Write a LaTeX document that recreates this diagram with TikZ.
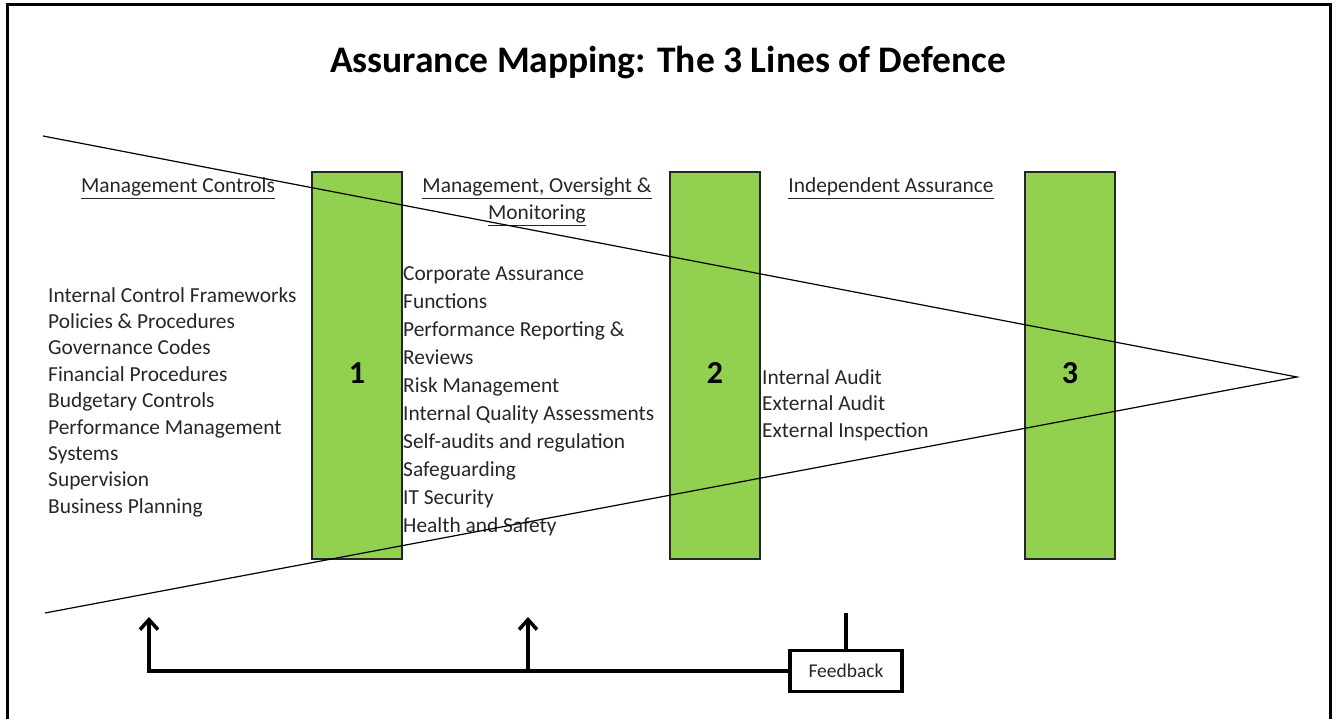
\documentclass[tikz,border=0pt]{standalone}
\usepackage{fontspec}
\setmainfont{Carlito}
\usetikzlibrary{arrows.meta}

\definecolor{barGreen}{HTML}{92D050}
\definecolor{txtGray}{HTML}{262626}

\begin{document}
\begin{tikzpicture}[x=1pt, y=-1pt,
    bar/.style={rectangle, draw=black!85, fill=barGreen, line width=1.2pt, minimum width=90pt, minimum height=387pt, inner sep=0pt},
    num/.style={anchor=base, inner sep=0pt, font=\fontsize{32}{38}\selectfont\bfseries},
    item/.style={anchor=base west, inner sep=0pt, text=txtGray, font=\fontsize{21.4}{25}\selectfont},
    head/.style={anchor=base, inner sep=0pt, text=txtGray, font=\fontsize{21.4}{25}\selectfont},
    fbline/.style={line width=3.5pt},
    arrow/.style={fbline, -{Straight Barb[length=10pt, width=18pt]}},
    triline/.style={line width=1.2pt}
]
\useasboundingbox (0,0) rectangle (1335,719);

% outer frame
\draw[line width=3pt] (7,5) rectangle (1330,730);

% title
\node[anchor=base, inner sep=0pt, font=\fontsize{37.5}{45}\selectfont\bfseries] (title) at (668,73) {Assurance Mapping: The 3 Lines of Defence};

% the three lines
\node[bar] (bar1) at (357,365.5) {};
\node[bar] (bar2) at (715,365.5) {};
\node[bar] (bar3) at (1070,365.5) {};
\node[num] (num1) at (357,383) {1};
\node[num] (num2) at (715,383) {2};
\node[num] (num3) at (1070,383) {3};

% headings
\node[head] (headMgmt) at (178,193) {\underline{Management Controls}};
\node[head] (headOver) at (537,193) {\underline{Management, Oversight \&}};
\node[head] (headMon) at (537,220) {\underline{Monitoring}};
\node[head] (headInd) at (891,193) {\underline{Independent Assurance}};

% first line items
\foreach \t [count=\i from 0] in {Internal Control Frameworks, Policies \& Procedures, Governance Codes, Financial Procedures, Budgetary Controls, Performance Management, Systems, Supervision, Business Planning}
  \node[item] (first\i) at (48,302+26.4*\i) {\t};

% second line items
\foreach \t [count=\i from 0] in {Corporate Assurance, Functions, Performance Reporting \&, Reviews, Risk Management, Internal Quality Assessments, Self-audits and regulation, Safeguarding, IT Security, Health and Safety}
  \node[item] (second\i) at (403,280+28.1*\i) {\t};

% third line items
\foreach \t [count=\i from 0] in {Internal Audit, External Audit, External Inspection}
  \node[item] (third\i) at (762,384+26.5*\i) {\t};

% converging lines
\coordinate (topStart) at (43,136);
\coordinate (botStart) at (45,613);
\coordinate (tip) at (1297,377);
\draw[triline] (topStart) -- (tip) -- (botStart);

% feedback loop
\node[rectangle, draw, fbline, minimum width=112pt, minimum height=41pt, text=txtGray, font=\fontsize{19.5}{23}\selectfont] (feedback) at (846,671) {Feedback};
\coordinate (fbLeft) at (149,617);
\coordinate (fbMid) at (528,617);
\coordinate (fbTop) at (846,613);
\draw[arrow] (feedback.west) -| (fbLeft);
\draw[arrow] (fbMid |- feedback.west) -- (fbMid);
\draw[fbline] (feedback.north) -- (fbTop);

\end{tikzpicture}
\end{document}
